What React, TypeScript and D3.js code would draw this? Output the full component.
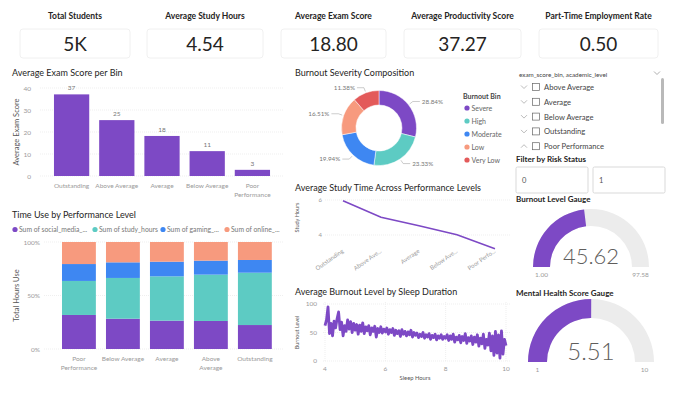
import React from 'react';
import * as d3 from 'd3';

// KPI cards
const kpiTitles = ['Total Students', 'Average Study Hours', 'Average Exam Score', 'Average Productivity Score', 'Part-Time Employment Rate'];
const kpiValues = ['5K', '4.54', '18.80', '37.27', '0.50'];

// Average exam score per bin
const examBins = ['Outstanding', 'Above Average', 'Average', 'Below Average', 'Poor Performance'];
const examScores = [37.1, 25.4, 18.2, 11.3, 2.8];
const examTickLines = [['Outstanding'], ['Above Average'], ['Average'], ['Below Average'], ['Poor', 'Performance']];
const examYTicks = [0, 10, 20, 30, 40];

// Burnout severity composition
const burnoutBins = ['Severe', 'High', 'Moderate', 'Low', 'Very Low'];
const burnoutShares = [28.84, 23.33, 19.94, 16.51, 11.38];

// Time use by performance level (share of hours)
const timeLevels = ['Poor Performance', 'Below Average', 'Average', 'Above Average', 'Outstanding'];
const timeTickLines = [['Poor', 'Performance'], ['Below Average'], ['Average'], ['Above', 'Average'], ['Outstanding']];
const timeSeries = ['Sum of social_media_...', 'Sum of study_hours', 'Sum of gaming_...', 'Sum of online_...'];
const socialMedia = [31.8, 28.3, 26.5, 26.2, 22.4];
const studyHours = [31.8, 38.1, 41.4, 43.3, 48.9];
const gamingHours = [15.8, 14.6, 13.7, 13.1, 11.9];
const onlineHours = [20.6, 19.0, 18.4, 17.4, 16.8];
const timeYTicks = [0, 0.5, 1];

// Average study time across performance levels
const studyLevels = ['Outstanding', 'Above Average', 'Average', 'Below Average', 'Poor Performance'];
const studyLabels = ['Outstanding', 'Above Ave...', 'Average', 'Below Ave...', 'Poor Perfo...'];
const studyAvg = [5.96, 5.01, 4.53, 4.02, 3.22];
const studyYTicks = [4, 6];

// Average burnout level by sleep duration (sleep hours 4.00 .. 10.00, every 0.05 h)
const sleepHours = d3.range(0, 121).map((i) => +(4 + i * 0.05).toFixed(2));
const burnoutLevel = [
  62, 72, 95, 48, 66, 44, 70, 58, 74, 86, 55, 68, 44, 62, 52, 72, 56, 69, 50, 66,
  54, 64, 47, 63, 52, 67, 48, 60, 53, 62, 46, 58, 52, 61, 42, 57, 50, 60, 49, 56,
  51, 58, 47, 55, 50, 57, 45, 54, 48, 53, 43, 55, 47, 52, 44, 51, 46, 54, 42, 50,
  45, 49, 41, 47, 43, 50, 40, 46, 42, 48, 38, 45, 41, 47, 37, 44, 40, 46, 38, 43,
  40, 46, 36, 44, 38, 47, 33, 42, 37, 45, 32, 43, 36, 48, 31, 41, 35, 44, 29, 42,
  33, 46, 26, 40, 30, 47, 22, 38, 28, 49, 18, 44, 10, 52, 14, 46, 5, 53, 12, 38, 27,
];
const sleepXTicks = [4, 6, 8, 10];
const burnoutYTicks = [0, 50, 100];

// Slicers
const slicerItems = ['Above Average', 'Average', 'Below Average', 'Outstanding', 'Poor Performance'];
const riskOptions = ['0', '1'];

// Gauges
const gaugeTitles = ['Burnout Level Gauge', 'Mental Health Score Gauge'];
const gaugeValues = [45.62, 5.51];
const gaugeMins = [1, 1];
const gaugeMaxs = [97.58, 10];
const gaugeValueLabels = ['45.62', '5.51'];
const gaugeMinLabels = ['1.00', '1'];
const gaugeMaxLabels = ['97.58', '10'];

const PURPLE = '#7D49C5';
const TEAL = '#5DCBC3';
const BLUE = '#3E87F2';
const SALMON = '#F79A7E';
const RED = '#E35A5A';
const seriesColors = [PURPLE, TEAL, BLUE, SALMON];
const donutColors = [PURPLE, TEAL, BLUE, SALMON, RED];

const FONT = 'Lato, "Open Sans", sans-serif';
const TITLE = '#252423';
const TICK = '#9a9a9a';
const GRID = '#efefef';

const Chevron: React.FC<{ x: number; y: number; up?: boolean; color?: string }> = ({ x, y, up, color = '#999' }) => (
  <path
    d={up ? `M${x - 3},${y + 1.5} L${x},${y - 1.5} L${x + 3},${y + 1.5}` : `M${x - 3},${y - 1.5} L${x},${y + 1.5} L${x + 3},${y - 1.5}`}
    fill="none"
    stroke={color}
    strokeWidth={0.8}
  />
);

const App: React.FC = () => {
  // KPI layout
  const cardX = [20, 147, 281, 404, 539];
  const cardW = [110, 116, 105, 117, 119];

  // Exam bar chart
  const xExam = d3.scaleBand<string>().domain(examBins).range([49, 275]).paddingInner(0.22).paddingOuter(0.11);
  const yExam = d3.scaleLinear().domain([0, 40]).range([176, 88]);

  // Donut
  const cx = 379;
  const cy = 128;
  const pie = d3.pie<number>().sort(null).value((d) => d);
  const arcs = pie(burnoutShares);
  const donutArc = d3.arc<d3.PieArcDatum<number>>().innerRadius(23).outerRadius(37.5);

  // Stacked 100% bars
  const timeRows = timeLevels.map((lvl, i) => ({
    level: lvl,
    s0: socialMedia[i],
    s1: studyHours[i],
    s2: gamingHours[i],
    s3: onlineHours[i],
  }));
  const stacked = d3.stack<any>().keys(['s0', 's1', 's2', 's3']).offset(d3.stackOffsetExpand)(timeRows);
  const xTime = d3.scaleBand<string>().domain(timeLevels).range([55.4, 278.4]).paddingInner(0.23).paddingOuter(0.15);
  const yTime = d3.scaleLinear().domain([0, 1]).range([349, 242]);
  const legendX = [15, 95, 163, 227];

  // Study line
  const xStudy = d3.scalePoint<string>().domain(studyLevels).range([343, 495]);
  const yStudy = d3.scaleLinear().domain([4, 6]).range([235, 200]);
  const studyLine = d3
    .line<number>()
    .x((_, i) => xStudy(studyLevels[i]) as number)
    .y((d) => yStudy(d));

  // Burnout line
  const xSleep = d3.scaleLinear().domain([4, 10]).range([325, 506]);
  const yBurn = d3.scaleLinear().domain([0, 100]).range([361, 304]);
  const burnLine = d3
    .line<number>()
    .x((_, i) => xSleep(sleepHours[i]))
    .y((d) => yBurn(d));

  // Gauges
  const gaugeCx = [591, 591];
  const gaugeCy = [267, 362];
  const gaugeRo = [58, 63];
  const gaugeRi = [41, 44];
  const gaugeTitleY = [202, 296];

  return (
    <div>
      <style>{'body{margin:0;background:#fff}'}</style>
      <svg width={680} height={394} style={{ display: 'block', fontFamily: FONT }}>
        <rect width={680} height={394} fill="#fff" />

        {/* KPI cards */}
        {kpiTitles.map((t, i) => (
          <g key={t}>
            <text x={cardX[i] + cardW[i] / 2} y={19} textAnchor="middle" fontSize={8.5} fontWeight={700} fill={TITLE}>
              {t}
            </text>
            <rect x={cardX[i]} y={29} width={cardW[i]} height={29} rx={3} fill="#fff" stroke="#ececec" strokeWidth={0.8} />
            <text x={cardX[i] + cardW[i] / 2} y={50.5} textAnchor="middle" fontSize={19} fill="#252423">
              {kpiValues[i]}
            </text>
          </g>
        ))}

        {/* Average Exam Score per Bin */}
        <text x={12} y={76} fontSize={9} fill={TITLE}>Average Exam Score per Bin</text>
        {examYTicks.map((t) => (
          <g key={t}>
            <line x1={40} x2={283} y1={yExam(t)} y2={yExam(t)} stroke={GRID} strokeDasharray="1,1" />
            <text x={31} y={yExam(t) + 2.5} textAnchor="end" fontSize={6.5} fill={TICK}>{t}</text>
          </g>
        ))}
        <text transform={`translate(19,${yExam(20)}) rotate(-90)`} textAnchor="middle" fontSize={7.5} fill="#555">Average Exam Score</text>
        {examBins.map((b, i) => (
          <g key={b}>
            <rect x={xExam(b)} y={yExam(examScores[i])} width={xExam.bandwidth()} height={yExam(0) - yExam(examScores[i])} fill={PURPLE} />
            <text x={(xExam(b) as number) + xExam.bandwidth() / 2} y={yExam(examScores[i]) - 4} textAnchor="middle" fontSize={6.5} fill="#777">
              {Math.round(examScores[i])}
            </text>
            {examTickLines[i].map((ln, j) => (
              <text key={ln} x={(xExam(b) as number) + xExam.bandwidth() / 2} y={188 + j * 8.5} textAnchor="middle" fontSize={6.5} fill={TICK}>
                {ln}
              </text>
            ))}
          </g>
        ))}

        {/* Burnout Severity Composition */}
        <text x={295} y={76} fontSize={9} fill={TITLE}>Burnout Severity Composition</text>
        <g transform={`translate(${cx},${cy})`}>
          {arcs.map((a, i) => (
            <path key={burnoutBins[i]} d={donutArc(a) as string} fill={donutColors[i]} stroke="#fff" strokeWidth={0.5} />
          ))}
          {arcs.map((a, i) => {
            const m = (a.startAngle + a.endAngle) / 2;
            const right = Math.sin(m) >= 0;
            const p1 = [Math.sin(m) * 39, -Math.cos(m) * 39];
            const p2 = [Math.sin(m) * 43, -Math.cos(m) * 43];
            const p3 = [p2[0] + (right ? 7 : -7), p2[1]];
            return (
              <g key={'l' + i}>
                <polyline points={`${p1} ${p2} ${p3}`} fill="none" stroke="#aaa" strokeWidth={0.6} />
                <text x={p3[0] + (right ? 2 : -2)} y={p3[1] + 2.2} textAnchor={right ? 'start' : 'end'} fontSize={6.3} fill="#777">
                  {burnoutShares[i].toFixed(2)}%
                </text>
              </g>
            );
          })}
        </g>
        <text x={463} y={99} fontSize={7} fontWeight={700} fill="#444">Burnout Bin</text>
        {burnoutBins.map((b, i) => (
          <g key={b}>
            <circle cx={467} cy={108 + i * 13} r={2.6} fill={donutColors[i]} />
            <text x={471.5} y={110.5 + i * 13} fontSize={7} fill="#666">{b}</text>
          </g>
        ))}

        {/* Slicer */}
        <text x={519} y={76.5} fontSize={6.3} fill="#444">exam_score_bin, academic_level</text>
        <Chevron x={657} y={73} />
        <rect x={661} y={78} width={3} height={46} rx={1.5} fill="#b9b9b9" />
        {slicerItems.map((s, i) => (
          <g key={s}>
            <Chevron x={524} y={87 + i * 14.8} up={i === slicerItems.length - 1} color="#aaa" />
            <rect x={532.5} y={83.5 + i * 14.8} width={7} height={7} fill="#fff" stroke="#666" strokeWidth={0.7} />
            <text x={544} y={90 + i * 14.8} fontSize={7.6} fill="#444">{s}</text>
          </g>
        ))}
        <text x={516} y={162} fontSize={8} fontWeight={700} fill={TITLE}>Filter by Risk Status</text>
        {riskOptions.map((o, i) => (
          <g key={o}>
            <rect x={516 + i * 77} y={167} width={72} height={26} rx={1.5} fill="#fff" stroke="#cfcfcf" strokeWidth={0.8} />
            <text x={522 + i * 77} y={183} fontSize={7.5} fill="#555">{o}</text>
          </g>
        ))}

        {/* Time Use by Performance Level */}
        <text x={12} y={218} fontSize={9} fill={TITLE}>Time Use by Performance Level</text>
        {timeSeries.map((s, i) => (
          <g key={s}>
            <circle cx={legendX[i]} cy={229.5} r={2.6} fill={seriesColors[i]} />
            <text x={legendX[i] + 4} y={232} fontSize={6.8} fill="#777">{s}</text>
          </g>
        ))}
        {timeYTicks.map((t) => (
          <g key={t}>
            <line x1={44} x2={283} y1={yTime(t)} y2={yTime(t)} stroke={GRID} strokeDasharray="1,1" />
            <text x={40} y={yTime(t) + 2.5} textAnchor="end" fontSize={6.5} fill={TICK}>{`${t * 100}%`}</text>
          </g>
        ))}
        <text transform={`translate(19,${yTime(0.5)}) rotate(-90)`} textAnchor="middle" fontSize={7.5} fill="#555">Total Hours Use</text>
        {stacked.map((layer, k) => (
          <g key={layer.key} fill={seriesColors[k]}>
            {layer.map((d, i) => (
              <rect
                key={timeLevels[i]}
                x={xTime(timeLevels[i])}
                y={yTime(d[1])}
                width={xTime.bandwidth()}
                height={yTime(d[0]) - yTime(d[1])}
              />
            ))}
          </g>
        ))}
        {timeLevels.map((l, i) =>
          timeTickLines[i].map((ln, j) => (
            <text key={l + ln} x={(xTime(l) as number) + xTime.bandwidth() / 2} y={361 + j * 8.5} textAnchor="middle" fontSize={6.5} fill={TICK}>
              {ln}
            </text>
          ))
        )}

        {/* Average Study Time Across Performance Levels */}
        <text x={295} y={191} fontSize={9} fill={TITLE}>Average Study Time Across Performance Levels</text>
        {studyYTicks.map((t) => (
          <g key={t}>
            <line x1={325} x2={510} y1={yStudy(t)} y2={yStudy(t)} stroke={GRID} strokeDasharray="1,1" />
            <text x={322} y={yStudy(t) + 2.2} textAnchor="end" fontSize={6} fill={TICK}>{t}</text>
          </g>
        ))}
        <text transform={`translate(299,${yStudy(5)}) rotate(-90)`} textAnchor="middle" fontSize={5.5} fill="#555">Study Hours</text>
        <path d={studyLine(studyAvg) as string} fill="none" stroke={PURPLE} strokeWidth={1.6} />
        {studyLevels.map((l, i) => (
          <text key={l} transform={`translate(${(xStudy(l) as number) + 1},${252}) rotate(-35)`} textAnchor="end" fontSize={6} fill={TICK}>
            {studyLabels[i]}
          </text>
        ))}

        {/* Average Burnout Level by Sleep Duration */}
        <text x={295} y={295} fontSize={9} fill={TITLE}>Average Burnout Level by Sleep Duration</text>
        {burnoutYTicks.map((t) => (
          <g key={t}>
            <line x1={323} x2={510} y1={yBurn(t)} y2={yBurn(t)} stroke={GRID} strokeDasharray="1,1" />
            <text x={317} y={yBurn(t) + 2.3} textAnchor="end" fontSize={6.5} fill={TICK}>{t}</text>
          </g>
        ))}
        {sleepXTicks.map((t) => (
          <g key={t}>
            <line x1={xSleep(t)} x2={xSleep(t)} y1={302} y2={361} stroke={GRID} strokeDasharray="1,1" />
            <text x={xSleep(t)} y={371} textAnchor="middle" fontSize={6.5} fill={TICK}>{t}</text>
          </g>
        ))}
        <text x={415} y={380} textAnchor="middle" fontSize={5.8} fill="#555">Sleep Hours</text>
        <text transform={`translate(299,${yBurn(50)}) rotate(-90)`} textAnchor="middle" fontSize={5.5} fill="#555">Burnout Level</text>
        <path d={burnLine(burnoutLevel) as string} fill="none" stroke={PURPLE} strokeWidth={2.8} strokeLinejoin="round" />

        {/* Gauges */}
        {gaugeTitles.map((t, i) => {
          const frac = (gaugeValues[i] - gaugeMins[i]) / (gaugeMaxs[i] - gaugeMins[i]);
          const base = d3.arc().innerRadius(gaugeRi[i]).outerRadius(gaugeRo[i]);
          const bg = base({ startAngle: -Math.PI / 2, endAngle: Math.PI / 2 } as any) as string;
          const fg = base({ startAngle: -Math.PI / 2, endAngle: -Math.PI / 2 + frac * Math.PI } as any) as string;
          return (
            <g key={t}>
              <text x={516} y={gaugeTitleY[i]} fontSize={8} fontWeight={700} fill={TITLE}>{t}</text>
              <g transform={`translate(${gaugeCx[i]},${gaugeCy[i]})`}>
                <path d={bg} fill="#ececec" />
                <path d={fg} fill={PURPLE} />
                <text x={0} y={i === 0 ? -3 : -2} textAnchor="middle" fontSize={i === 0 ? 22 : 24} fontWeight={300} fill="#605e5c">
                  {gaugeValueLabels[i]}
                </text>
                <text x={-(gaugeRo[i] + gaugeRi[i]) / 2} y={10} textAnchor="middle" fontSize={6.5} fill={TICK}>{gaugeMinLabels[i]}</text>
                <text x={(gaugeRo[i] + gaugeRi[i]) / 2} y={10} textAnchor="middle" fontSize={6.5} fill={TICK}>{gaugeMaxLabels[i]}</text>
              </g>
            </g>
          );
        })}
      </svg>
    </div>
  );
};

export default App;
